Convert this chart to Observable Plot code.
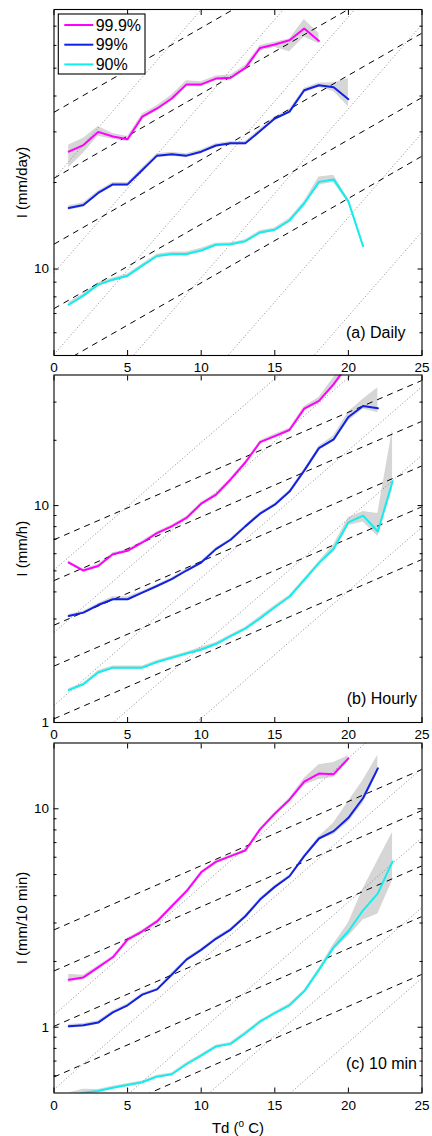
<!DOCTYPE html>
<html><head><meta charset="utf-8">
<script src="https://cdn.jsdelivr.net/npm/d3@7"></script>
<script src="https://cdn.jsdelivr.net/npm/@observablehq/plot@0.6"></script>
<style>
body{margin:0;background:#fff;}
#chart svg{display:block;overflow:visible;font-family:"Liberation Sans",Arial,Helvetica,sans-serif;}
</style></head><body><div id="chart"></div>
<script>
// ---------- data ----------
const xDomain = [0, 25];
const xTicks = [0, 5, 10, 15, 20, 25];
const seriesNames = ["99.9%", "99%", "90%"];
const seriesColors = ["#ff00ff", "#1020e6", "#11eeee"];
const ccRate = 0.07;          // dashed reference lines (per °C)
const cc2Rate = 0.1449;       // dotted reference lines (per °C)

// (a) Daily
const tdA999 = [1,2,3,4,5,6,7,8,9,10,11,12,13,14,15,16,17,18];
const a999   = [25.6,27.0,30.0,28.9,28.3,33.9,36.2,39.2,43.9,43.9,46.0,46.3,50.1,58.8,60.4,62.5,68.7,62.2];
const a999Lo = [22.5,25.3,29.0,28.3,27.8,33.2,35.5,38.4,43.0,43.2,45.2,45.5,49.2,57.5,59.0,57.0,64.2,60.8];
const a999Hi = [27.0,28.5,31.3,29.6,28.9,34.6,37.0,40.3,45.2,44.8,47.0,47.3,51.2,60.0,61.5,63.2,73.8,66.0];
const tdA99  = [1,2,3,4,5,6,7,8,9,10,11,12,13,14,15,16,17,18,19,20];
const a99    = [16.3,16.7,18.4,19.7,19.7,22.1,24.8,25.1,24.8,25.6,26.9,27.4,27.4,30.2,33.4,35.3,41.9,43.6,42.9,39.0];
const a99Lo  = [16.0,16.4,18.1,19.4,19.4,21.8,24.4,24.7,24.4,25.2,26.5,27.0,27.0,29.7,32.9,34.7,41.0,42.8,41.5,36.7];
const a99Hi  = [16.6,17.0,18.7,20.0,20.0,22.5,25.2,25.5,25.2,26.0,27.3,27.8,27.8,30.7,33.9,35.9,42.6,44.4,44.5,46.0];
const tdA90  = [1,2,3,4,5,6,7,8,9,10,11,12,13,14,15,16,17,18,19,20,21];
const a90    = [7.51,8.08,8.82,9.18,9.48,10.27,11.1,11.27,11.27,11.6,12.15,12.2,12.5,13.4,13.7,14.75,16.9,20.1,20.5,17.2,12.0];
const a90Lo  = [7.4,7.95,8.7,9.05,9.35,10.1,10.95,11.1,11.1,11.45,12.0,12.05,12.35,13.2,13.5,14.5,16.6,19.6,20.0,16.9,11.8];
const a90Hi  = [7.65,8.2,8.95,9.3,9.6,10.4,11.25,11.45,11.45,11.8,12.3,12.35,12.65,13.6,13.9,15.0,17.2,20.9,21.2,17.5,12.2];
const dashA  = [35.1, 20.7, 12.2, 7.28, 4.55];
const dotA   = [20.65, 9.71, 5.04, 2.41, 1.01, 0.458];

// (b) Hourly
const tdB999 = [1,2,3,4,5,6,7,8,9,10,11,12,13,14,15,16,17,18,19,20];
const b999   = [5.46,5.02,5.27,5.97,6.19,6.76,7.47,8.02,8.77,10.2,11.2,13.2,15.8,19.6,20.9,22.3,28.0,30.4,36.3,45.0];
const b999Lo = [5.38,4.95,5.19,5.88,6.10,6.66,7.36,7.90,8.64,10.05,11.0,13.0,15.55,19.3,20.5,21.9,27.4,29.5,35.0,43.0];
const b999Hi = [5.55,5.10,5.35,6.06,6.28,6.86,7.58,8.14,8.90,10.35,11.4,13.4,16.05,19.9,21.3,22.7,28.6,31.5,39.0,48.0];
const tdB99  = [1,2,3,4,5,6,7,8,9,10,11,12,13,14,15,16,17,18,19,20,21,22];
const b99    = [3.10,3.21,3.48,3.70,3.70,3.97,4.26,4.58,5.02,5.46,6.30,6.96,8.02,9.18,10.1,11.6,14.5,18.4,20.2,25.6,28.8,28.1];
const b99Lo  = [3.05,3.16,3.42,3.64,3.64,3.91,4.20,4.51,4.94,5.38,6.20,6.86,7.90,9.04,9.95,11.4,14.25,18.0,19.7,24.5,27.9,26.8];
const b99Hi  = [3.15,3.26,3.54,3.80,3.80,4.03,4.32,4.65,5.10,5.54,6.40,7.06,8.14,9.32,10.25,11.8,14.75,18.8,21.0,27.0,30.9,34.9];
const tdB90  = [1,2,3,4,5,6,7,8,9,10,11,12,13,14,15,16,17,18,19,20,21,22,23];
const b90    = [1.41,1.50,1.70,1.79,1.79,1.79,1.90,1.99,2.08,2.17,2.30,2.50,2.71,3.02,3.40,3.80,4.54,5.43,6.32,8.37,8.99,7.60,12.96];
const b90Lo  = [1.39,1.48,1.67,1.76,1.76,1.76,1.87,1.96,2.05,2.12,2.26,2.46,2.67,2.96,3.34,3.74,4.47,5.34,6.1,8.1,8.4,7.2,11.9];
const b90Hi  = [1.43,1.52,1.73,1.82,1.82,1.82,1.93,2.02,2.11,2.22,2.34,2.54,2.75,3.08,3.46,3.86,4.61,5.52,6.6,8.8,9.4,9.2,22.5];
const dashB  = [6.96, 4.51, 2.81, 1.82, 1.04];
const dotB   = [5.05, 2.6, 1.2, 0.58, 0.27];

// (c) 10 min
const tdC999 = [1,2,3,4,5,6,7,8,9,10,11,12,13,14,15,16,17,18,19,20];
const c999   = [1.65,1.69,1.88,2.09,2.52,2.75,3.05,3.58,4.19,5.12,5.71,6.07,6.44,8.05,9.49,11.0,13.3,14.5,14.4,17.0];
const c999Lo = [1.60,1.66,1.85,2.06,2.48,2.71,3.00,3.53,4.13,5.05,5.63,5.99,6.36,7.94,9.35,10.8,12.8,13.6,13.9,16.5];
const c999Hi = [1.75,1.73,1.91,2.12,2.56,2.79,3.10,3.63,4.25,5.19,5.79,6.15,6.52,8.16,9.63,11.2,13.8,15.9,16.3,17.5];
const tdC99  = [1,2,3,4,5,6,7,8,9,10,11,12,13,14,15,16,17,18,19,20,21,22];
const c99    = [1.01,1.02,1.05,1.17,1.26,1.41,1.49,1.74,2.04,2.26,2.54,2.80,3.22,3.84,4.39,4.91,6.07,7.31,7.90,9.09,11.2,15.3];
const c99Lo  = [0.99,1.00,1.03,1.15,1.24,1.39,1.47,1.71,2.01,2.23,2.50,2.76,3.17,3.78,4.32,4.84,5.98,7.2,7.6,8.7,10.6,14.6];
const c99Hi  = [1.03,1.04,1.07,1.19,1.28,1.43,1.51,1.77,2.07,2.29,2.58,2.84,3.27,3.90,4.46,4.98,6.16,7.45,8.6,10.8,13.5,17.6];
const tdC90  = [1,2,3,4,5,6,7,8,9,10,11,12,13,14,15,16,17,18,19,20,21,22,23];
const c90    = [0.48,0.502,0.511,0.529,0.544,0.56,0.594,0.609,0.677,0.742,0.816,0.839,0.939,1.06,1.16,1.26,1.46,1.83,2.32,2.75,3.43,4.10,5.74];
const c90Lo  = [0.46,0.48,0.503,0.521,0.536,0.552,0.585,0.600,0.667,0.731,0.804,0.827,0.925,1.045,1.145,1.24,1.44,1.80,2.25,2.60,3.10,3.30,4.70];
const c90Hi  = [0.50,0.52,0.519,0.537,0.552,0.568,0.603,0.618,0.687,0.753,0.828,0.851,0.953,1.075,1.175,1.28,1.48,1.86,2.40,3.00,4.30,5.80,7.80];
const dashC  = [2.79, 1.81, 1.01, 0.592, 0.322];
const dotC   = [1.14, 0.52, 0.25, 0.12, 0.057];

// ---------- helpers ----------
function rows(name, td, v, lo, hi) {
  return td.map((t, i) => ({name, td: t, v: v[i], lo: lo[i], hi: hi[i]}));
}
function refLines(intercepts, rate) {
  return intercepts.map(v0 => ({x1: xDomain[0], y1: v0, x2: xDomain[1], y2: v0 * Math.pow(1 + rate, xDomain[1] - xDomain[0])}));
}

function panel(cfg) {
  const data = cfg.series.map((s, i) => rows(seriesNames[i], ...s));
  const marks = [];
  data.forEach(d => marks.push(Plot.areaY(d, {x: "td", y1: "lo", y2: "hi", fill: "#d6d6d6", clip: true})));
  marks.push(Plot.link(refLines(cfg.dot, cc2Rate), {x1: "x1", y1: "y1", x2: "x2", y2: "y2", stroke: "#8a8a8a", strokeWidth: 1, strokeDasharray: "1,2.2", clip: true}));
  marks.push(Plot.link(refLines(cfg.dash, ccRate), {x1: "x1", y1: "y1", x2: "x2", y2: "y2", stroke: "#000", strokeWidth: 1, strokeDasharray: "6,5", clip: true}));
  data.forEach((d, i) => marks.push(Plot.line(d, {x: "td", y: "v", stroke: seriesColors[i], strokeWidth: 2, clip: true})));
  marks.push(Plot.frame({stroke: "#000", strokeWidth: 1.1}));
  // x axis
  marks.push(Plot.axisX({anchor: "bottom", ticks: xTicks, tickSize: -5, tickPadding: 12, fontSize: 13.5, tickFormat: d => String(d),
    label: cfg.xlabel || null, labelAnchor: "center", labelOffset: 40, labelArrow: "none"}));
  marks.push(Plot.axisX({anchor: "top", ticks: xTicks, tickSize: -5, tickFormat: () => "", label: null}));
  // y axis
  marks.push(Plot.axisY({anchor: "left", ticks: cfg.major, tickSize: 0, tickPadding: 5, fontSize: 13.5, tickFormat: d => String(d),
    label: cfg.ylabel, labelAnchor: "center", labelOffset: 38, labelArrow: "none"}));
  marks.push(Plot.axisY({anchor: "left", ticks: cfg.major, tickSize: -5, tickFormat: () => "", label: null}));
  marks.push(Plot.axisY({anchor: "left", ticks: cfg.minor, tickSize: -3, tickFormat: () => "", label: null}));
  marks.push(Plot.axisY({anchor: "right", ticks: cfg.major, tickSize: -5, tickFormat: () => "", label: null}));
  marks.push(Plot.axisY({anchor: "right", ticks: cfg.minor, tickSize: -3, tickFormat: () => "", label: null}));
  marks.push(Plot.text([cfg.tag], {frameAnchor: "bottom-right", textAnchor: "end", lineAnchor: "middle", dx: cfg.tagDx, dy: cfg.tagDy, fontSize: 16, fill: "#000"}));

  return Plot.plot({
    width: 432, height: cfg.height,
    marginLeft: 53.5, marginRight: 10.5, marginTop: cfg.marginTop, marginBottom: cfg.marginBottom,
    style: {overflow: "visible", fontFamily: "'Liberation Sans', Arial, Helvetica, sans-serif", color: "#000", background: "transparent"},
    x: {domain: xDomain},
    y: {type: "log", domain: cfg.yDomain},
    marks
  });
}

const chart = document.getElementById("chart");

const svgA = panel({
  series: [[tdA999, a999, a999Lo, a999Hi], [tdA99, a99, a99Lo, a99Hi], [tdA90, a90, a90Lo, a90Hi]],
  dash: dashA, dot: dotA, yDomain: [5, 80], major: [10], minor: [6,7,8,9,20,30,40,50,60,70],
  ylabel: "I (mm/day)", tag: "(a) Daily", tagDx: -16.5, tagDy: -23,
  height: 374, marginTop: 9, marginBottom: 19
});
chart.appendChild(svgA);

const svgB = panel({
  series: [[tdB999, b999, b999Lo, b999Hi], [tdB99, b99, b99Lo, b99Hi], [tdB90, b90, b90Lo, b90Hi]],
  dash: dashB, dot: dotB, yDomain: [1, 40], major: [1, 10], minor: [2,3,4,5,6,7,8,9,20,30],
  ylabel: "I (mm/h)", tag: "(b) Hourly", tagDx: -5, tagDy: -24,
  height: 366, marginTop: 0.5, marginBottom: 18
});
chart.appendChild(svgB);

const svgC = panel({
  series: [[tdC999, c999, c999Lo, c999Hi], [tdC99, c99, c99Lo, c99Hi], [tdC90, c90, c90Lo, c90Hi]],
  dash: dashC, dot: dotC, yDomain: [0.5, 20], major: [1, 10], minor: [0.6,0.7,0.8,0.9,2,3,4,5,6,7,8,9],
  ylabel: "I (mm/10 min)", tag: "(c) 10 min", tagDx: -5, tagDy: -29.5,
  xlabel: "Td (o C)",
  height: 396, marginTop: 2.5, marginBottom: 43.5
});
chart.appendChild(svgC);

// axis label font sizes, strip any auto arrow, superscript "o"
d3.selectAll("#chart svg g[aria-label='y-axis label'] text").each(function() {
  const t = d3.select(this);
  t.attr("font-size", 15).text(t.text().replace(/\s*[↑→↓←]\s*/g, ""));
});
const xl = d3.select(svgC).select("g[aria-label='x-axis label'] text");
if (!xl.empty()) {
  xl.attr("font-size", 15).text(null);
  xl.append("tspan").text("Td (");
  xl.append("tspan").attr("font-size", 10).attr("dy", -6).text("o");
  xl.append("tspan").attr("dy", 6).text(" C)");
}

// legend inside panel (a)
const lg = d3.select(svgA).append("g").attr("font-family", "'Liberation Sans', Arial, Helvetica, sans-serif");
lg.append("rect").attr("x", 58.3).attr("y", 14).attr("width", 86.7).attr("height", 60)
  .attr("fill", "#fff").attr("stroke", "#000").attr("stroke-width", 1.1);
seriesNames.forEach((n, i) => {
  const y = 25 + i * 19.7;
  lg.append("line").attr("x1", 64.3).attr("x2", 93.3).attr("y1", y).attr("y2", y)
    .attr("stroke", seriesColors[i]).attr("stroke-width", 2);
  lg.append("text").attr("x", 95.7).attr("y", y).attr("dy", "0.36em").attr("text-anchor", "start")
    .attr("font-size", 16).attr("fill", "#000").text(n);
});
</script></body></html>
